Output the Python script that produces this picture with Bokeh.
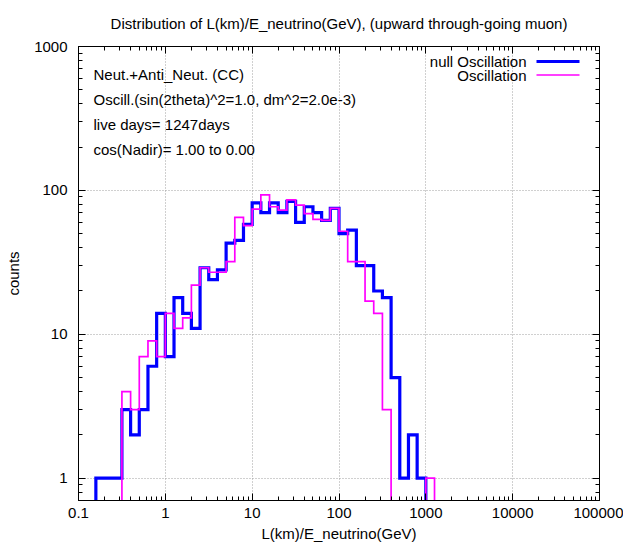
import numpy as np
from bokeh.plotting import figure
from bokeh.models import FixedTicker, LogAxis, Label, BoxAnnotation, Range1d
from bokeh.embed import file_html
from bokeh.resources import INLINE

# ---------------- data ----------------
# histogram bins: 10 per decade, bin k spans 10**(k/10) .. 10**((k+1)/10)
bins_per_decade = 10
null_first_bin = -8
null_counts = [1, 1, 1, 3, 2, 3, 6, 14, 7, 18, 14, 11, 29, 24, 28, 43, 45, 58,
               82, 70, 82, 70, 84, 60, 77, 70, 62, 75, 50, 53, 30, 30, 20, 18,
               5, 1, 2, 1]
osc_first_bin = -5
osc_counts = [4, 3, 7, 9, 7, 14, 11, 13, 22, 29, 27, 27, 32, 65, 57, 74, 93,
              77, 73, 86, 79, 69, 63, 62, 75, 52, 32, 32, 17, 14, 3,
              0, 0, 0, 0, 1]

x_ticks = [0.1, 1, 10, 100, 1000, 10000, 100000]
x_tick_labels = ["0.1", "1", "10", "100", "1000", "10000", "100000"]
y_ticks = [1, 10, 100, 1000]
y_tick_labels = ["1", "10", "100", "1000"]

title_text = "Distribution of L(km)/E_neutrino(GeV), (upward through-going muon)"
x_label = "L(km)/E_neutrino(GeV)"
y_label = "counts"
info_lines = ["Neut.+Anti_Neut. (CC)",
              "Oscill.(sin(2theta)^2=1.0, dm^2=2.0e-3)",
              "live days= 1247days",
              "cos(Nadir)= 1.00 to 0.00"]
series_names = ["null Oscillation", "Oscillation"]
series_colors = ["#0000ff", "#ff00ff"]
series_widths = [3.2, 1.7]

FONT = "Liberation Sans"
FS = "15px"
FLOOR = 0.1  # below the visible range, for zero bins / step ends


def step_path(first_bin, counts):
    n = len(counts)
    edges = 10.0 ** ((first_bin + np.arange(n + 1)) / bins_per_decade)
    vals = [c if c > 0 else FLOOR for c in counts]
    xs = [edges[0]]
    ys = [FLOOR]
    for i, c in enumerate(vals):
        xs += [edges[i], edges[i + 1]]
        ys += [c, c]
    xs.append(edges[-1])
    ys.append(FLOOR)
    return xs, ys


p = figure(width=623, height=545, x_axis_type="log", y_axis_type="log",
           x_range=Range1d(0.1, 100000), y_range=Range1d(0.7, 1000),
           output_backend="svg", toolbar_location=None,
           min_border_left=78, min_border_right=24,
           min_border_top=46, min_border_bottom=45)

p.background_fill_color = "white"
p.border_fill_color = "white"
p.outline_line_color = "black"
p.outline_line_width = 1

p.title.text = title_text
p.title.align = "center"
p.title.vertical_align = "middle"
p.title.text_font = FONT
p.title.text_font_size = FS
p.title.text_font_style = "normal"
p.title.text_color = "black"
p.title.standoff = 27

x_minor = [m * 10.0 ** e for e in range(-1, 5) for m in range(2, 10)]
y_minor = [m * 10.0 ** e for e in range(-1, 3) for m in range(2, 10)]


def style_axis(ax, ticks, minor, labels, show):
    ax.ticker = FixedTicker(ticks=ticks, minor_ticks=minor)
    ax.major_label_overrides = dict(zip(ticks, labels))
    ax.major_tick_in = 7
    ax.major_tick_out = 0
    ax.minor_tick_in = 4
    ax.minor_tick_out = 0
    ax.major_tick_line_color = "black"
    ax.minor_tick_line_color = "black"
    ax.axis_line_color = "black"
    ax.major_label_text_font = FONT
    ax.major_label_text_color = "black"
    ax.axis_label_text_font = FONT
    ax.axis_label_text_font_size = FS
    ax.axis_label_text_font_style = "normal"
    ax.axis_label_text_color = "black"
    if show:
        ax.major_label_text_font_size = FS
    else:
        ax.major_label_text_font_size = "0px"
        ax.major_label_standoff = 0


xa = p.xaxis[0]
ya = p.yaxis[0]
style_axis(xa, x_ticks, x_minor, x_tick_labels, True)
style_axis(ya, y_ticks, y_minor, y_tick_labels, True)
ya.axis_label = y_label
xa.axis_label = x_label
xa.major_label_standoff = 7
xa.axis_label_standoff = 4
ya.major_label_standoff = 11
ya.axis_label_standoff = 9

top = LogAxis()
style_axis(top, x_ticks, x_minor, ["" for _ in x_ticks], False)
p.add_layout(top, "above")
right = LogAxis()
style_axis(right, y_ticks, y_minor, ["" for _ in y_ticks], False)
p.add_layout(right, "right")

for g in (p.xgrid[0], p.ygrid[0]):
    g.grid_line_color = "#a0a0a0"
    g.grid_line_dash = "1 2"
    g.grid_line_width = 1

for first, counts, color, w in ((null_first_bin, null_counts, series_colors[0], series_widths[0]),
                                (osc_first_bin, osc_counts, series_colors[1], series_widths[1])):
    xs, ys = step_path(first, counts)
    p.line(xs, ys, line_color=color, line_width=w, line_join="miter")

# legend (text right-aligned, sample on the right, like gnuplot)
legend_rows_y = [439, 425.5]
for name, color, w, yy in zip(series_names, series_colors, series_widths, legend_rows_y):
    p.add_layout(Label(x=448, y=yy, x_units="screen", y_units="screen", text=name,
                       text_align="right", text_baseline="middle",
                       text_font=FONT, text_font_size=FS, text_color="black"))
    p.add_layout(BoxAnnotation(left=458, right=501, top=yy + w / 2, bottom=yy - w / 2,
                               left_units="screen", right_units="screen",
                               top_units="screen", bottom_units="screen",
                               fill_color=color, fill_alpha=1.0, line_color=None))

info_y = [426, 401, 376, 351]
for txt, yy in zip(info_lines, info_y):
    p.add_layout(Label(x=15, y=yy, x_units="screen", y_units="screen", text=txt,
                       text_align="left", text_baseline="middle",
                       text_font=FONT, text_font_size=FS, text_color="black"))

open("out.html", "w").write(file_html(p, INLINE))
